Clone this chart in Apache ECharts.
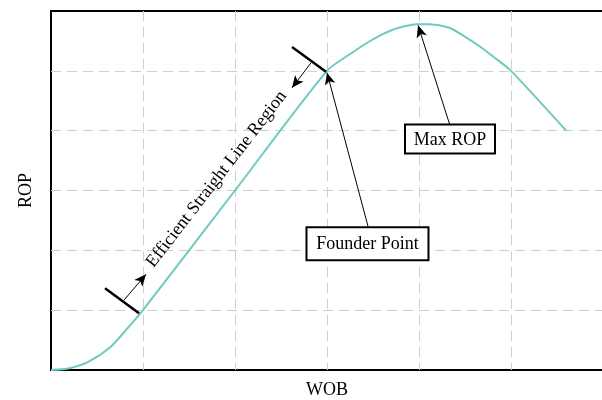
<!DOCTYPE html>
<html><head><meta charset="utf-8">
<script src="https://cdn.jsdelivr.net/npm/echarts@6/dist/echarts.min.js"></script>
<style>html,body{margin:0;padding:0;background:#fff}#c{width:602px;height:400px}</style>
</head><body><div id="c"></div>
<script>
// Curve data (WOB vs ROP, arbitrary units)
const wob = [0, 0.2, 0.41, 0.65, 0.85, 1, 2, 3, 3.28, 3.46, 3.6, 3.78, 3.98, 4.11, 4.33, 4.51, 4.65, 4.83, 5, 5.6];
const rop = [0, 0.03, 0.14, 0.39, 0.73, 1, 3, 5, 5.31, 5.49, 5.61, 5.72, 5.78, 5.78, 5.72, 5.56, 5.42, 5.21, 5, 4];
// Axis extents
const xRange = [0, 6];
const yRange = [0, 6];
// Annotation geometry (data coordinates)
const tick1 = [[0.587, 1.367], [0.957, 0.95]];
const arrow1 = [[0.793, 1.167], [1.033, 1.6]];
const tick2 = [[2.62, 5.4], [2.989, 4.983]];
const arrow2 = [[2.826, 5.133], [2.62, 4.717]];
const founderArrow = [[3.446, 2.4], [3.0, 4.97]];
const maxArrow = [[4.334, 4.1], [3.99, 5.76]];
const founderLabel = {text: 'Founder Point', at: [3.44, 2.11]};
const maxLabel = {text: 'Max ROP', at: [4.337, 3.86]};
const regionLabel = {text: 'Efficient Straight Line Region', at: [1.80, 3.19]};

const FONT = '"Liberation Serif", "Times New Roman", serif';
const chart = echarts.init(document.getElementById('c'));

function seg(p, q, width, arrow) {
  return [
    {coord: p, symbol: 'none', lineStyle: {color: '#000', width: width, type: 'solid'}},
    {coord: q, symbol: arrow ? 'arrow' : 'none', symbolSize: [8, 12]}
  ];
}
const split = {show: true, showMinLine: false, showMaxLine: false, lineStyle: {color: '#cfcfcf', width: 1, type: [10, 6]}};

chart.setOption({
  animation: false,
  grid: {left: 51, top: 11, bottom: 30, right: -1, outerBoundsMode: 'none', containLabel: false,
         show: true, borderColor: '#000', borderWidth: 2, backgroundColor: 'transparent'},
  xAxis: {
    type: 'value', min: xRange[0], max: xRange[1], interval: 1,
    name: 'WOB', nameLocation: 'middle', nameGap: 11,
    nameTextStyle: {fontFamily: FONT, fontSize: 18, color: '#000'},
    axisLine: {show: false}, axisTick: {show: false}, axisLabel: {show: false},
    splitLine: split
  },
  yAxis: {
    type: 'value', min: yRange[0], max: yRange[1], interval: 1,
    name: 'ROP', nameLocation: 'middle', nameGap: 16, nameRotate: 90,
    nameTextStyle: {fontFamily: FONT, fontSize: 18, color: '#000'},
    axisLine: {show: false}, axisTick: {show: false}, axisLabel: {show: false},
    splitLine: split
  },
  series: [{
    type: 'line',
    data: wob.map((x, i) => [x, rop[i]]),
    smooth: 0.25,
    showSymbol: false,
    lineStyle: {color: '#6ccac1', width: 2},
    silent: true,
    markLine: {
      silent: true,
      animation: false,
      label: {show: false},
      emphasis: {disabled: true},
      data: [
        seg(tick1[0], tick1[1], 2.5, false),
        seg(arrow1[0], arrow1[1], 1, true),
        seg(tick2[0], tick2[1], 2.5, false),
        seg(arrow2[0], arrow2[1], 1, true),
        seg(founderArrow[0], founderArrow[1], 1, true),
        seg(maxArrow[0], maxArrow[1], 1, true)
      ]
    }
  }]
});

function px(p) { return chart.convertToPixel({gridIndex: 0}, p); }
function box(lbl, w, h) {
  const c = px(lbl.at);
  return {
    type: 'group', x: c[0], y: c[1], z: 100,
    children: [
      {type: 'rect', shape: {x: -w / 2, y: -h / 2, width: w, height: h}, style: {fill: '#fff', stroke: '#000', lineWidth: 2}},
      {type: 'text', x: 0, y: 1, style: {text: lbl.text, font: '18px ' + FONT, fill: '#000', align: 'center', verticalAlign: 'middle'}}
    ]
  };
}
const rc = px(regionLabel.at);
const a0 = px(tick1[1]), a1 = px(tick2[1]);
const ang = Math.atan2(a0[1] - a1[1], a1[0] - a0[0]);
chart.setOption({
  graphic: [
    box(founderLabel, 122, 33),
    box(maxLabel, 90, 29),
    {type: 'text', x: rc[0], y: rc[1], rotation: ang, z: 100,
     style: {text: regionLabel.text, font: '18px ' + FONT, fill: '#000', align: 'center', verticalAlign: 'middle'}}
  ]
});
</script>
</body></html>
